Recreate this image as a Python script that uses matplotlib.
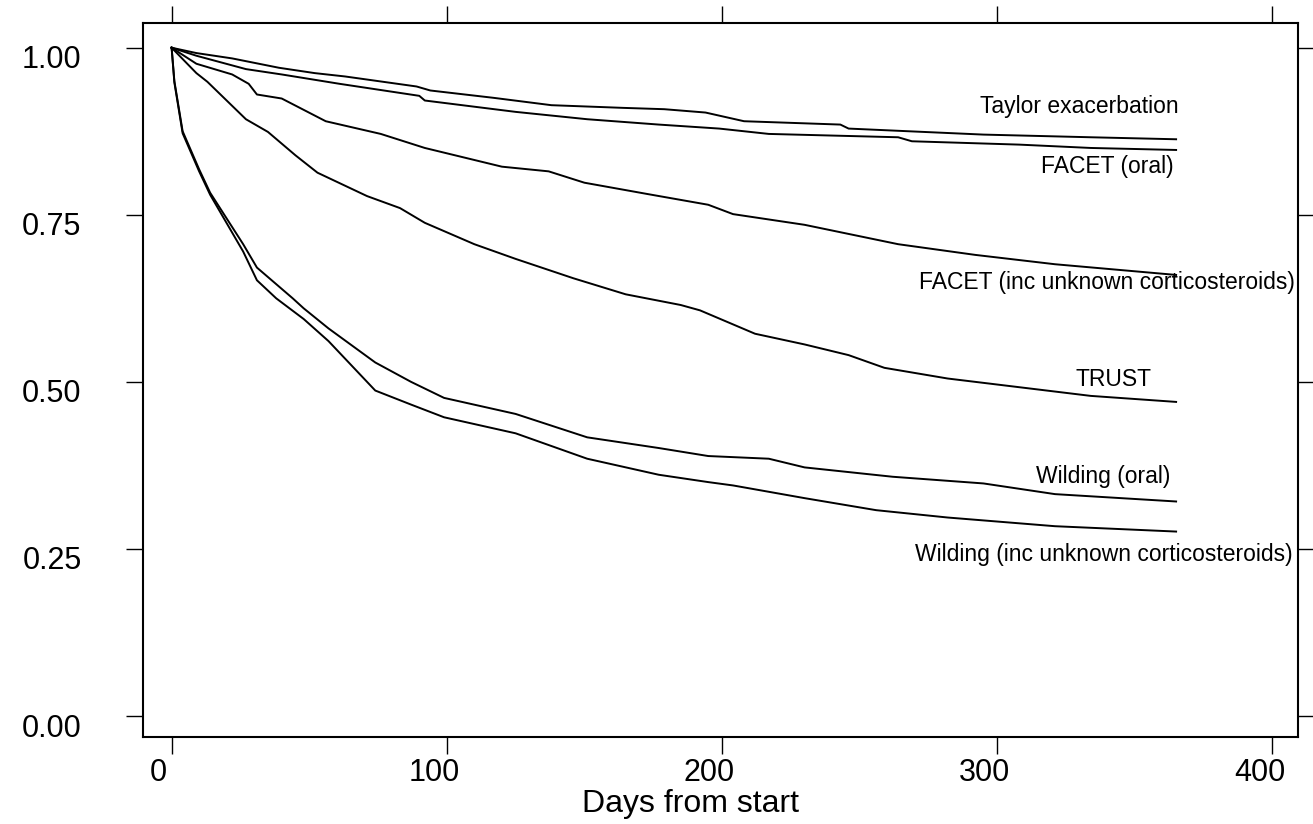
import matplotlib
matplotlib.use("Agg")
import matplotlib.pyplot as plt
import matplotlib.transforms as mtransforms

plt.rcParams['font.family'] = ['Liberation Sans', 'DejaVu Sans']

# survival curves (days, proportion)
taylor_days = [0, 9, 22, 39, 52, 63, 89, 94, 117, 138, 164, 179, 194, 208, 243, 246, 295, 334, 365]
taylor_surv = [1.0, 0.992, 0.984, 0.970, 0.962, 0.957, 0.942, 0.936, 0.925, 0.914, 0.910, 0.908, 0.903, 0.890, 0.885, 0.879, 0.870, 0.866, 0.863]

facet_oral_days = [0, 9, 27, 40, 61, 90, 92, 125, 151, 177, 199, 217, 264, 269, 308, 334, 365]
facet_oral_surv = [1.0, 0.988, 0.968, 0.960, 0.946, 0.928, 0.921, 0.904, 0.893, 0.885, 0.879, 0.871, 0.866, 0.860, 0.855, 0.850, 0.847]

facet_inc_days = [0, 9, 22, 28, 31, 40, 56, 76, 92, 120, 137, 150, 173, 195, 204, 230, 264, 292, 321, 365]
facet_inc_surv = [1.0, 0.976, 0.960, 0.946, 0.930, 0.924, 0.890, 0.871, 0.850, 0.822, 0.815, 0.798, 0.781, 0.765, 0.751, 0.735, 0.706, 0.690, 0.676, 0.660]

trust_days = [0, 9, 13, 27, 35, 45, 53, 71, 83, 92, 110, 125, 146, 165, 185, 192, 212, 230, 246, 259, 282, 308, 334, 365]
trust_surv = [1.0, 0.962, 0.949, 0.893, 0.874, 0.839, 0.813, 0.778, 0.760, 0.738, 0.706, 0.684, 0.655, 0.631, 0.615, 0.607, 0.572, 0.556, 0.540, 0.521, 0.505, 0.492, 0.479, 0.470]

wilding_oral_days = [0, 1, 4, 10, 14, 26, 31, 44, 48, 57, 74, 87, 99, 125, 151, 177, 195, 217, 230, 262, 295, 321, 365]
wilding_oral_surv = [1.0, 0.950, 0.875, 0.818, 0.783, 0.706, 0.671, 0.625, 0.610, 0.580, 0.529, 0.500, 0.476, 0.452, 0.417, 0.401, 0.389, 0.385, 0.372, 0.358, 0.348, 0.332, 0.321]

wilding_inc_days = [0, 1, 4, 10, 14, 26, 31, 38, 48, 57, 74, 87, 99, 125, 151, 177, 195, 204, 230, 256, 282, 321, 365]
wilding_inc_surv = [1.0, 0.948, 0.872, 0.815, 0.780, 0.695, 0.652, 0.625, 0.594, 0.561, 0.487, 0.466, 0.447, 0.423, 0.385, 0.361, 0.350, 0.345, 0.326, 0.308, 0.297, 0.284, 0.276]

curve_names = ["Taylor exacerbation", "FACET (oral)", "FACET (inc unknown corticosteroids)",
               "TRUST", "Wilding (oral)", "Wilding (inc unknown corticosteroids)"]

x_ticks = [0, 100, 200, 300, 400]
y_ticks = [0.0, 0.25, 0.5, 0.75, 1.0]
y_tick_labels = ["0.00", "0.25", "0.50", "0.75", "1.00"]

fig = plt.figure(figsize=(13.13, 8.24), dpi=100)
ax = fig.add_axes([0.1087, 0.1056, 0.8801, 0.8665])

curves = [(taylor_days, taylor_surv), (facet_oral_days, facet_oral_surv),
          (facet_inc_days, facet_inc_surv), (trust_days, trust_surv),
          (wilding_oral_days, wilding_oral_surv), (wilding_inc_days, wilding_inc_surv)]
for days, surv in curves:
    ax.plot(days, surv, color="black", lw=1.4)

# curve labels, right aligned next to the curve ends
label_pos = [(366, 0.912), (364, 0.823), (408, 0.648), (356, 0.504), (363, 0.358), (407.5, 0.241)]
for name, (lx, ly) in zip(curve_names, label_pos):
    ax.text(lx, ly, name, ha="right", va="center", fontsize=16.5, color="black")

ax.set_xlim(-10.5, 409.4)
ax.set_ylim(-0.0314, 1.037)
ax.set_xticks(x_ticks)
ax.set_xticklabels([str(t) for t in x_ticks])
ax.set_yticks(y_ticks)
ax.set_yticklabels(y_tick_labels)

ax.tick_params(axis="both", which="major", direction="out", length=12, width=1,
               top=True, right=True, labelsize=22, colors="black")
ax.tick_params(axis="y", pad=32)
ax.tick_params(axis="x", pad=3)
for s in ax.spines.values():
    s.set_linewidth(1.5)

# tick labels sit a little off their ticks in the original
shift_x = mtransforms.ScaledTranslation(-13 / 100, 0, fig.dpi_scale_trans)
for lab in ax.get_xticklabels():
    lab.set_transform(lab.get_transform() + shift_x)
shift_y = mtransforms.ScaledTranslation(0, -9 / 100, fig.dpi_scale_trans)
for lab in ax.get_yticklabels():
    lab.set_transform(lab.get_transform() + shift_y)

ax.set_xlabel("Days from start", fontsize=23)
ax.xaxis.set_label_coords(0.4743, -0.073)

plt.savefig("out.png", dpi=100)
